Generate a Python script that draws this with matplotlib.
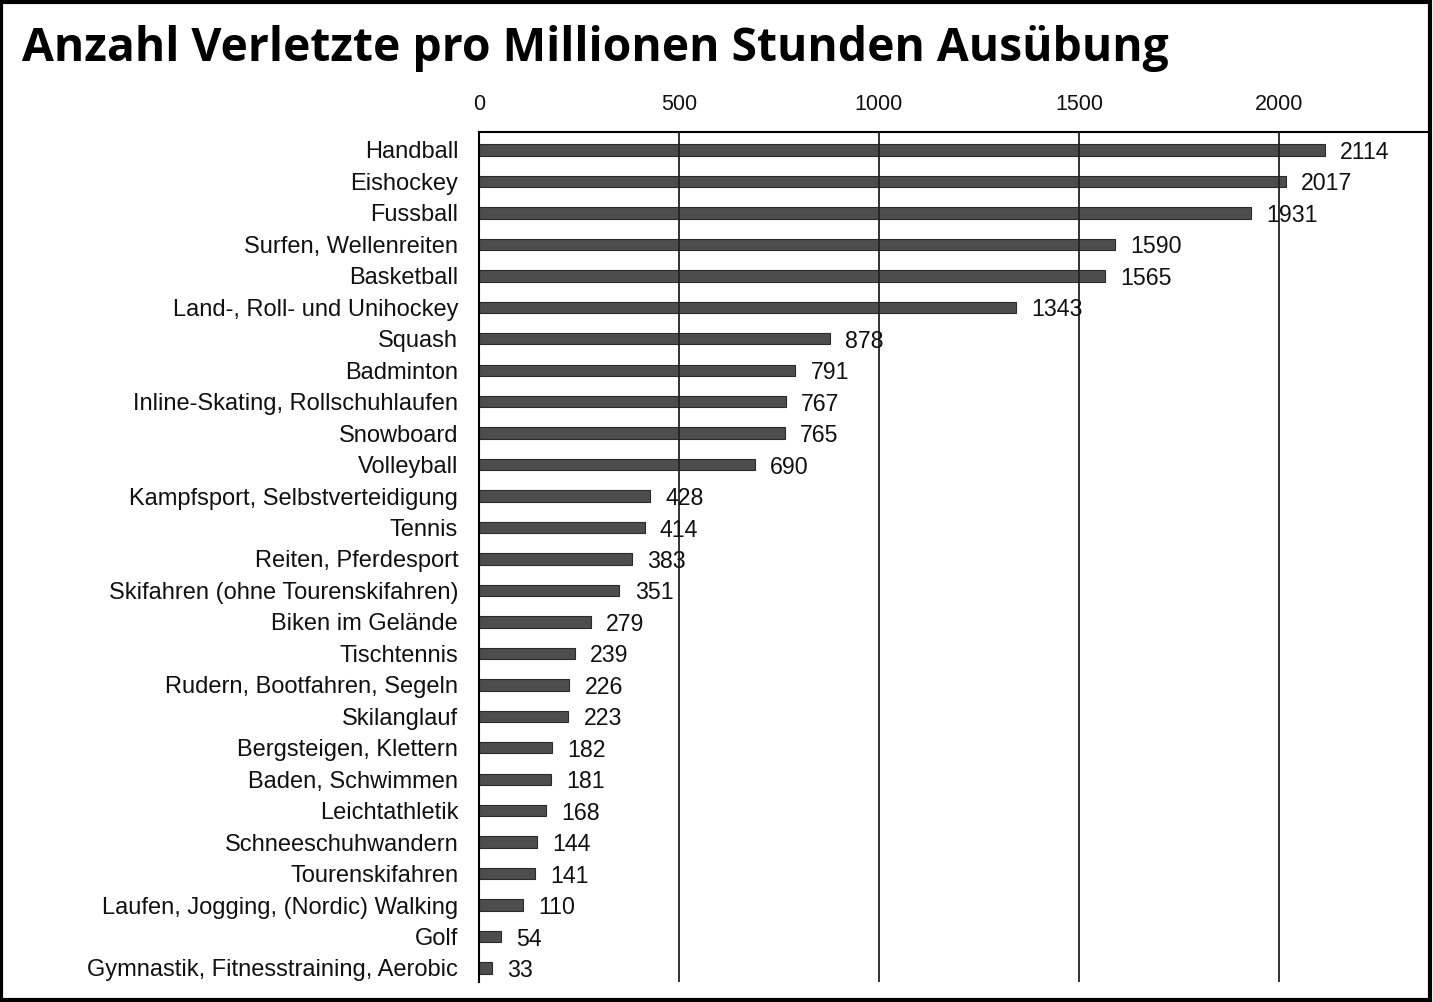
import matplotlib.pyplot as plt
from matplotlib.patches import Rectangle

# data
sports = [
    "Handball", "Eishockey", "Fussball", "Surfen, Wellenreiten", "Basketball",
    "Land-, Roll- und Unihockey", "Squash", "Badminton",
    "Inline-Skating, Rollschuhlaufen", "Snowboard", "Volleyball",
    "Kampfsport, Selbstverteidigung", "Tennis", "Reiten, Pferdesport",
    "Skifahren (ohne Tourenskifahren)", "Biken im Gelände", "Tischtennis",
    "Rudern, Bootfahren, Segeln", "Skilanglauf", "Bergsteigen, Klettern",
    "Baden, Schwimmen", "Leichtathletik", "Schneeschuhwandern",
    "Tourenskifahren", "Laufen, Jogging, (Nordic) Walking", "Golf",
    "Gymnastik, Fitnesstraining, Aerobic",
]
injuries = [2114, 2017, 1931, 1590, 1565, 1343, 878, 791, 767, 765, 690,
            428, 414, 383, 351, 279, 239, 226, 223, 182, 181, 168, 144,
            141, 110, 54, 33]
xticks = [0, 500, 1000, 1500, 2000]

W, H = 1433, 1002
fig = plt.figure(figsize=(W / 100, H / 100), dpi=100)

# axes placed in pixel terms
left, right, top, bottom = 479, 1430, 132, 982
ax = fig.add_axes([left / W, 1 - bottom / H, (right - left) / W, (bottom - top) / H])

ypos = list(range(len(sports)))
ax.barh(ypos, injuries, height=0.36, color="#4d4d4d", edgecolor="#2a2a2a",
        linewidth=0.8, zorder=2)

for y, v in zip(ypos, injuries):
    ax.text(v + 38, y + 0.08, str(v), va="center", ha="left", fontsize=16.7,
            family="Liberation Sans", color="#111111", zorder=4)

ax.set_xlim(0, (right - left) / 0.4)
ax.set_ylim(26.445, -0.572)
ax.set_yticks(ypos)
ax.set_yticklabels(sports, fontsize=17, family="Liberation Sans", color="#111111")
ax.set_xticks(xticks)
ax.set_xticklabels([str(t) for t in xticks], fontsize=15.5,
                   family="Liberation Sans", color="#111111")
ax.xaxis.tick_top()
ax.tick_params(axis="both", length=0)
ax.tick_params(axis="x", pad=12)
ax.tick_params(axis="y", pad=15)

for t in xticks[1:]:
    ax.axvline(t, color="#222222", linewidth=1.3, zorder=3)

for s in ["right", "bottom"]:
    ax.spines[s].set_visible(False)
ax.spines["left"].set_linewidth(1.5)
ax.spines["top"].set_linewidth(1.5)
ax.spines["left"].set_zorder(5)

fig.text(22 / W, 1 - 48 / H, "Anzahl Verletzte pro Millionen Stunden Ausübung",
         fontsize=33.3, fontweight="bold", family="Open Sans", va="center",
         ha="left", color="black")

fig.patches.append(Rectangle((0.001, 0.002), 0.997, 0.996, transform=fig.transFigure,
                             fill=False, edgecolor="black", linewidth=3))

fig.savefig("out.png", dpi=100)
